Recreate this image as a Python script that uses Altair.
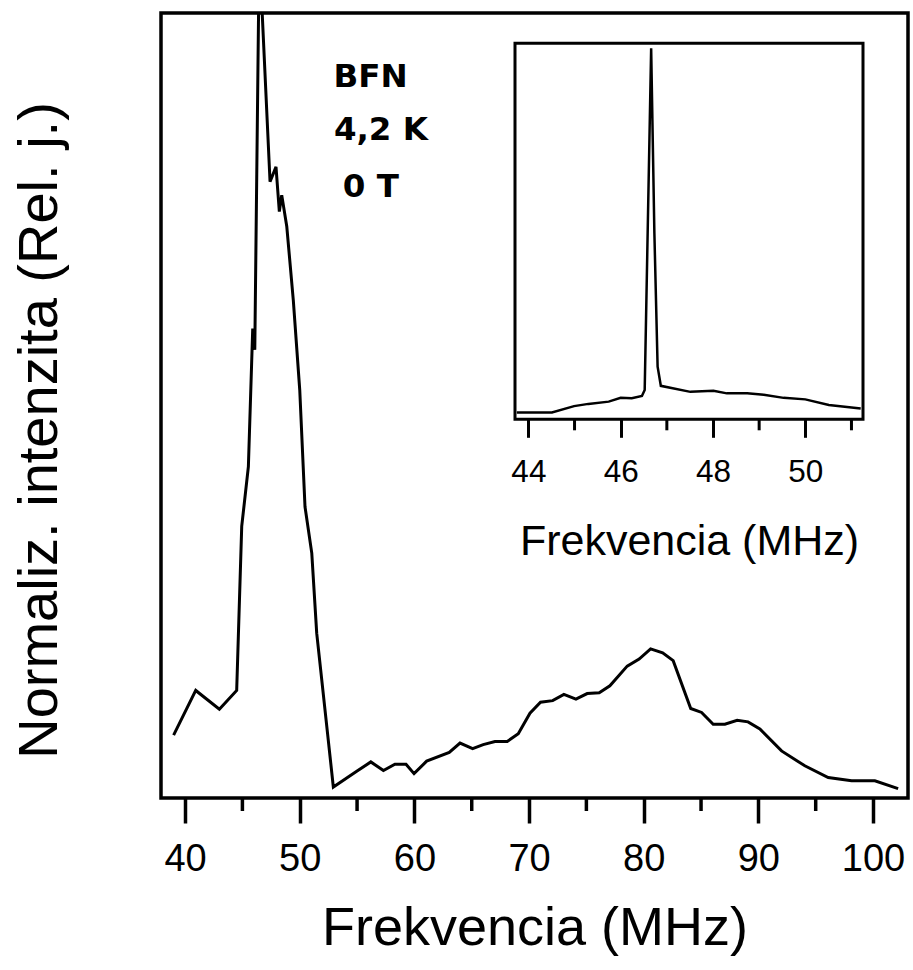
import altair as alt
import pandas as pd

# ---- main spectrum (frequency MHz, normalised intensity) ----
main_f = [39.0, 40.93, 42.99, 44.5, 44.94, 45.52, 45.9, 46.08, 46.47, 47.41, 47.93, 48.22,
          48.43, 48.87, 49.44, 50.0, 50.46, 51.05, 51.48, 52.93, 54.97, 56.2, 57.3, 58.3,
          59.27, 59.97, 61.07, 63.04, 63.98, 65.08, 66.0, 67.03, 68.1, 69.06, 70.08, 71.0,
          72.06, 73.04, 74.09, 75.07, 76.12, 77.05, 78.56, 79.6, 80.6, 81.65, 82.57, 84.1,
          85.05, 86.06, 87.08, 88.15, 89.1, 90.13, 92.02, 94.05, 96.09, 98.13, 100.16, 102.19]
main_v = [0.080, 0.137, 0.113, 0.137, 0.346, 0.422, 0.598, 0.571, 1.08, 0.785, 0.804, 0.747,
          0.768, 0.728, 0.634, 0.52, 0.371, 0.312, 0.210, 0.014, 0.034, 0.046, 0.035, 0.043,
          0.043, 0.031, 0.047, 0.058, 0.070, 0.063, 0.068, 0.072, 0.072, 0.082, 0.108, 0.122,
          0.124, 0.132, 0.126, 0.133, 0.134, 0.143, 0.168, 0.177, 0.190, 0.185, 0.175, 0.114,
          0.109, 0.094, 0.094, 0.099, 0.097, 0.088, 0.060, 0.041, 0.026, 0.022, 0.022, 0.012]
main_domain_x = [37.9, 103.05]
main_domain_y = [0, 1]
main_major = [40, 50, 60, 70, 80, 90, 100]
main_minor = [45, 55, 65, 75, 85, 95]

# ---- inset spectrum ----
ins_f = [43.75, 44.51, 44.99, 45.30, 45.74, 46.0, 46.24, 46.46, 46.52, 46.66, 46.73, 46.80,
         46.87, 47.51, 48.01, 48.30, 48.74, 49.10, 49.53, 50.0, 50.51, 51.2]
ins_v = [0.018, 0.018, 0.035, 0.041, 0.047, 0.057, 0.056, 0.062, 0.078, 0.987, 0.495, 0.140,
         0.089, 0.073, 0.076, 0.069, 0.069, 0.065, 0.057, 0.053, 0.038, 0.029]
ins_domain_x = [43.71, 51.25]
ins_domain_y = [0, 1]
ins_major = [44, 46, 48, 50]
ins_minor = [45, 47, 49, 51]

# ---- annotation ----
ann_text = ["BFN", "4,2 K", "0 T"]
ann_f = [52.95, 52.98, 53.75]
ann_v = [0.906, 0.838, 0.766]

FONT = "Liberation Sans"
BOLD_FONT = "DejaVu Sans"
W, H = 747, 785
INS_RX = [354, 702]
INS_RY = [406.3, 30.3]

main_df = pd.DataFrame({"f": main_f, "v": main_v})
main_minor_df = pd.DataFrame({"f": main_minor})
ann_df = pd.DataFrame({"f": ann_f, "v": ann_v, "t": ann_text})
ins_df = pd.DataFrame({"f": ins_f, "v": ins_v})
ins_minor_df = pd.DataFrame({"f": ins_minor})
ins_box_df = pd.DataFrame({"f": [ins_domain_x[0]], "f2": [ins_domain_x[1]],
                           "v": [ins_domain_y[0]], "v2": [ins_domain_y[1]]})

mx = alt.Scale(domain=main_domain_x, nice=False, zero=False)
my = alt.Scale(domain=main_domain_y, nice=False, zero=False)
ix = alt.Scale(domain=ins_domain_x, range=INS_RX, nice=False, zero=False)
iy = alt.Scale(domain=ins_domain_y, range=INS_RY, nice=False, zero=False)

main_x_axis = alt.Axis(
    values=main_major, tickSize=25, tickWidth=3.5, tickColor="black",
    labelFont=FONT, labelFontSize=38, labelColor="black", labelPadding=17.5,
    domain=False, grid=False,
    title="Frekvencia (MHz)", titleFont=FONT, titleFontSize=54, titleFontWeight="normal",
    titleColor="black", titleBaseline="alphabetic", titleY=146)
main_y_axis = alt.Axis(
    labels=False, ticks=False, domain=False, grid=False,
    title="Normaliz. intenzita (Rel. j.)", titleFont=FONT, titleFontSize=56,
    titleFontWeight="normal", titleColor="black", titleAngle=270,
    titleAlign="center", titleBaseline="alphabetic", titleX=-105, titleY=417)
ins_x_axis = alt.Axis(
    orient="bottom", offset=-(H - INS_RY[0]), values=ins_major, tickSize=18, tickWidth=3,
    tickColor="black", labelFont=FONT, labelFontSize=31.5, labelColor="black", labelPadding=19,
    domain=False, grid=False,
    title="Frekvencia (MHz)", titleFont=FONT, titleFontSize=43, titleFontWeight="normal",
    titleColor="black", titleBaseline="alphabetic", titleY=135.5)
ins_y_axis = alt.Axis(labels=False, ticks=False, domain=False, grid=False, title=None)

main_line = alt.Chart(main_df).mark_line(color="black", strokeWidth=3, clip=True).encode(
    x=alt.X("f:Q", scale=mx, axis=main_x_axis),
    y=alt.Y("v:Q", scale=my, axis=main_y_axis),
)

main_minor_ticks = alt.Chart(main_minor_df).mark_rule(color="black", strokeWidth=3.5).encode(
    x=alt.X("f:Q", scale=mx, axis=main_x_axis),
    y=alt.value(H), y2=alt.value(H + 13),
)

ann = alt.Chart(ann_df).mark_text(
    align="left", baseline="alphabetic", font=BOLD_FONT, fontWeight="bold", fontSize=32.5,
    color="black"
).encode(
    x=alt.X("f:Q", scale=mx, axis=main_x_axis),
    y=alt.Y("v:Q", scale=my, axis=main_y_axis),
    text="t:N",
)

ins_box = alt.Chart(ins_box_df).mark_rect(fillOpacity=0, stroke="black", strokeWidth=3).encode(
    x=alt.X("f:Q", scale=ix, axis=ins_x_axis),
    x2="f2:Q",
    y=alt.Y("v:Q", scale=iy, axis=ins_y_axis),
    y2="v2:Q",
)

ins_line = alt.Chart(ins_df).mark_line(color="black", strokeWidth=2.5).encode(
    x=alt.X("f:Q", scale=ix, axis=ins_x_axis),
    y=alt.Y("v:Q", scale=iy, axis=ins_y_axis),
)

ins_minor_ticks = alt.Chart(ins_minor_df).mark_rule(color="black", strokeWidth=3).encode(
    x=alt.X("f:Q", scale=ix, axis=ins_x_axis),
    y=alt.value(INS_RY[0]), y2=alt.value(INS_RY[0] + 11),
)

main_layer = alt.layer(main_line, main_minor_ticks, ann)
ins_layer = alt.layer(ins_box, ins_line, ins_minor_ticks)

chart = alt.layer(main_layer, ins_layer).resolve_scale(
    x="independent", y="independent"
).properties(
    width=W, height=H,
    padding={"left": 161, "top": 13, "right": 5, "bottom": 172},
    autosize="none",
    background="white",
).configure_view(stroke="black", strokeWidth=3.5)

chart.save("out.html", embed_options={"renderer": "svg", "actions": False})
